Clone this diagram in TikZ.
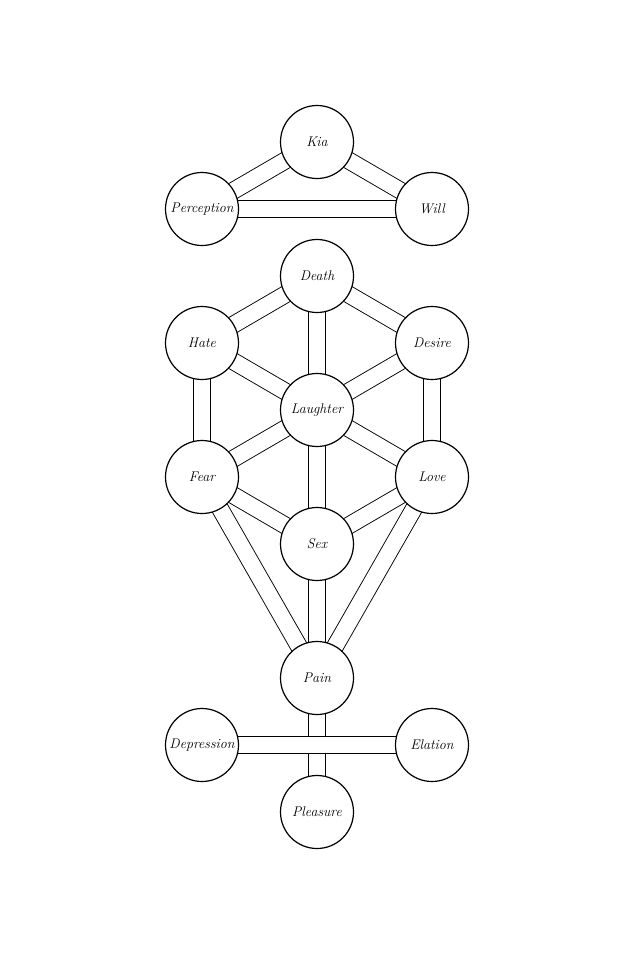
\documentclass[tikz,border=0pt]{standalone}
\usepackage{tikz}
\usetikzlibrary{positioning, backgrounds}

\begin{document}
\begin{tikzpicture}[x=1pt, y=1pt, node distance=67pt and 115pt, on grid,
    sephira/.style={draw, circle, fill=white, line width=1.2pt, minimum size=73pt, inner sep=0pt, font=\fontsize{14}{16}\selectfont\itshape},
    channel/.style={draw=black, line width=0.9pt, double=white, double distance=16pt}]
  \useasboundingbox (0,0) rectangle (638,-978);

  % upper triangle
  \node[sephira] (kia) at (317,-142) {Kia};
  \node[sephira, below left=of kia] (perception) {Perception};
  \node[sephira, below right=of kia] (will) {Will};

  % the tree
  \node[sephira, below=134pt of kia] (death) {Death};
  \node[sephira, below left=of death] (hate) {Hate};
  \node[sephira, below right=of death] (desire) {Desire};
  \node[sephira, below=134pt of death] (laughter) {Laughter};
  \node[sephira, below left=of laughter] (fear) {Fear};
  \node[sephira, below right=of laughter] (love) {Love};
  \node[sephira, below=134pt of laughter] (sex) {Sex};
  \node[sephira, below=134pt of sex] (pain) {Pain};

  % the cross
  \node[sephira, below left=of pain] (depression) {Depression};
  \node[sephira, below right=of pain] (elation) {Elation};
  \node[sephira, below=134pt of pain] (pleasure) {Pleasure};

  \begin{scope}[on background layer]
    \draw[channel] (kia.center) -- (perception.center);
    \draw[channel] (kia.center) -- (will.center);
    \draw[channel] (perception.center) -- (will.center);

    \draw[channel] (death.center) -- (hate.center);
    \draw[channel] (death.center) -- (desire.center);
    \draw[channel] (death.center) -- (laughter.center);
    \draw[channel] (hate.center) -- (laughter.center);
    \draw[channel] (desire.center) -- (laughter.center);
    \draw[channel] (hate.center) -- (fear.center);
    \draw[channel] (desire.center) -- (love.center);
    \draw[channel] (laughter.center) -- (fear.center);
    \draw[channel] (laughter.center) -- (love.center);
    \draw[channel] (laughter.center) -- (sex.center);
    \draw[channel] (fear.center) -- (sex.center);
    \draw[channel] (love.center) -- (sex.center);
    \draw[channel] (fear.center) -- (pain.center);
    \draw[channel] (love.center) -- (pain.center);
    \draw[channel] (sex.center) -- (pain.center);

    \draw[channel] (pain.center) -- (pleasure.center);
    \draw[channel] (depression.center) -- (elation.center);
  \end{scope}
\end{tikzpicture}
\end{document}
